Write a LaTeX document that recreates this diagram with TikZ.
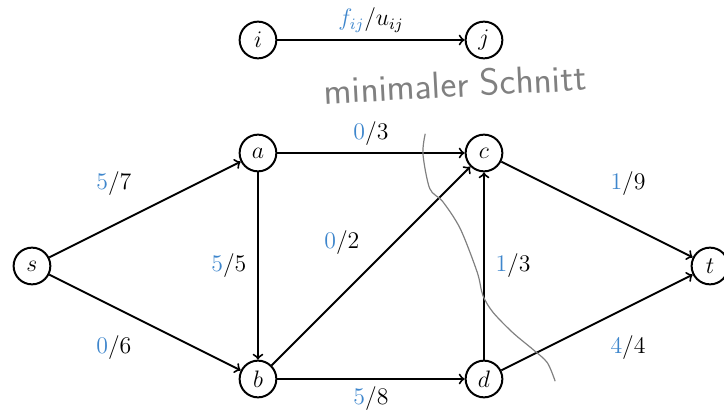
\documentclass[tikz,border=0pt]{standalone}
\usepackage{xcolor}
\definecolor{flowblue}{RGB}{62,134,204}
\newcommand{\fu}[2]{$\textcolor{flowblue}{#1}/#2$}
\begin{document}
\begin{tikzpicture}[font=\large,
  vertex/.style={circle,draw,line width=1pt,minimum size=0.65cm,inner sep=0pt},
  arc/.style={->,line width=1pt}]
  \useasboundingbox (-0.566,-2.673) rectangle (12.248,4.708);
  % legend
  \node[vertex] (i) at (4,4) {$i$};
  \node[vertex] (j) at (8,4) {$j$};
  \draw[arc] (i) -- (j) node[midway,above=0pt] {$\textcolor{flowblue}{f_{ij}}/u_{ij}$};
  % network
  \node[vertex] (s) at (0,0) {$s$};
  \node[vertex] (a) at (4,2) {$a$};
  \node[vertex] (b) at (4,-2) {$b$};
  \node[vertex] (c) at (8,2) {$c$};
  \node[vertex] (d) at (8,-2) {$d$};
  \node[vertex] (t) at (12,0) {$t$};
  \draw[arc] (s) -- (a) node[midway,above left=3pt] {\fu{5}{7}};
  \draw[arc] (s) -- (b) node[midway,below left=3pt] {\fu{0}{6}};
  \draw[arc] (a) -- (b) node[midway,left=2pt] {\fu{5}{5}};
  \draw[arc] (a) -- (c) node[midway,above=0pt] {\fu{0}{3}};
  \draw[arc] (b) -- (c) node[midway,above left=2pt] {\fu{0}{2}};
  \draw[arc] (b) -- (d) node[midway,below=0pt] {\fu{5}{8}};
  \draw[arc] (d) -- (c) node[midway,right=2pt] {\fu{1}{3}};
  \draw[arc] (c) -- (t) node[midway,above right=3pt] {\fu{1}{9}};
  \draw[arc] (d) -- (t) node[midway,below right=3pt] {\fu{4}{4}};
  % cut
  \draw[gray,line width=0.6pt] plot[smooth] coordinates {(6.96,2.34) (6.92,1.98) (7.04,1.37)
    (7.27,1.14) (7.58,0.66) (7.88,-0.11) (7.98,-0.52) (8.16,-0.82) (8.51,-1.18)
    (8.87,-1.48) (9.12,-1.71) (9.26,-2.04)};
  \node[gray,rotate=3,font=\sffamily\fontsize{19}{22}\selectfont] (cut) at (7.49,3.22) {minimaler Schnitt};
\end{tikzpicture}
\end{document}
